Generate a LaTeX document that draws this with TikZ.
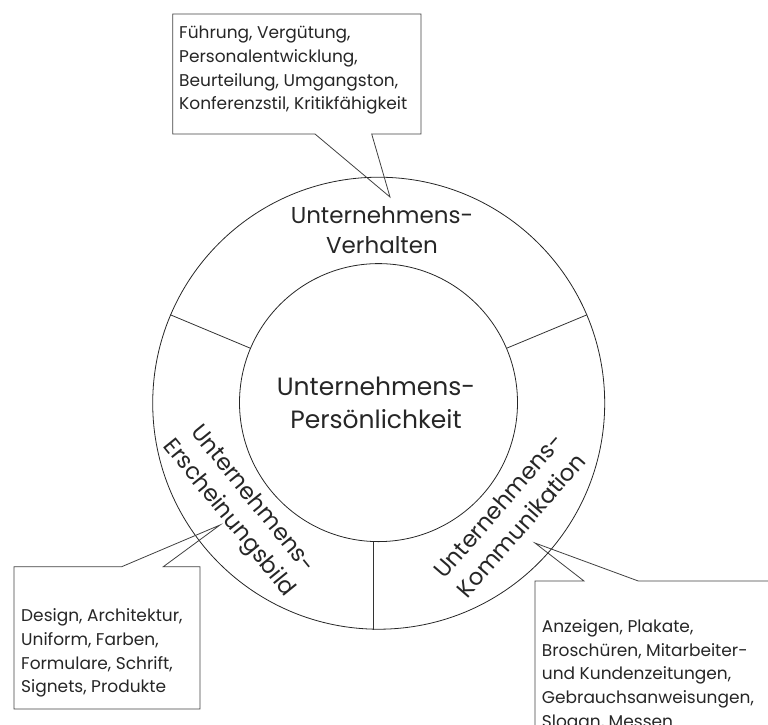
\documentclass[tikz,border=0pt]{standalone}
\usepackage{fontspec}
\setmainfont{Poppins}
\begin{document}
\begin{tikzpicture}[x=1pt,y=-1pt]
\tikzset{
  ring/.style={circle, draw=black!85, line width=0.8pt, inner sep=0pt},
  divider/.style={draw=black!80, line width=0.8pt},
  calloutline/.style={draw=black!75, line width=0.8pt, line join=miter},
  labeltext/.style={font=\fontsize{23}{30}\selectfont, align=center, inner sep=0pt, text=black!85},
  coretext/.style={font=\fontsize{25}{33}\selectfont, align=center, inner sep=0pt, text=black!85},
  listtext/.style={font=\fontsize{17}{23.7}\selectfont, align=left, inner sep=0pt, anchor=north west, text=black!85},
}
\useasboundingbox (0,0) rectangle (768,724);
\clip (0,0) rectangle (768,724);

% rings
\node[ring, minimum size=452pt] (outer) at (378.7,403.2) {};
\node[ring, minimum size=278pt] (inner) at (378.5,402.6) {};

% sector dividers
\draw[divider] (inner.157.6) -- (outer.157.2);
\draw[divider] (inner.23.9) -- (outer.23.4);
\draw[divider] (inner.-92.5) -- (inner.-92.5 |- outer.south);

% labels
\node[coretext] (core) at (376,403) {Unternehmens-\\Persönlichkeit};
\node[labeltext] (verhalten) at (382,230) {Unternehmens-\\Verhalten};
\node[labeltext, rotate=-51] (erscheinung) at (240,509) {Unternehmens-\\Erscheinungsbild};
\node[labeltext, rotate=49] (kommunikation) at (509.6,515.4) {Unternehmens-\\Kommunikation};

% callout tips
\coordinate (tipV) at (390,197);
\coordinate (tipE) at (220,525);
\coordinate (tipK) at (535,543);

% callout outlines
\draw[calloutline] (315,134) -- (172.7,134) -- (172.7,14) -- (421,14) -- (421,134) -- (371.7,134) -- (tipV) -- cycle;
\draw[calloutline] (121.7,566.7) -- (14,566.7) -- (14,709) -- (200,709) -- (200,566.7) -- (163.3,566.7) -- (tipE) -- cycle;
\draw[calloutline] (535,740) -- (535,581) -- (584,581) -- (tipK) -- (638.3,581) -- (780,581);

% callout texts
\node[listtext] (listV) at (179,26) {Führung, Vergütung,\\Personalentwicklung,\\Beurteilung, Umgangston,\\Konferenzstil, Kritikfähigkeit};
\node[listtext] (listE) at (21,608.5) {Design, Architektur,\\Uniform, Farben,\\Formulare, Schrift,\\Signets, Produkte};
\node[listtext] (listK) at (541.7,619.4) {Anzeigen, Plakate,\\Broschüren, Mitarbeiter-\\und Kundenzeitungen,\\Gebrauchsanweisungen,\\Slogan, Messen};
\end{tikzpicture}
\end{document}
